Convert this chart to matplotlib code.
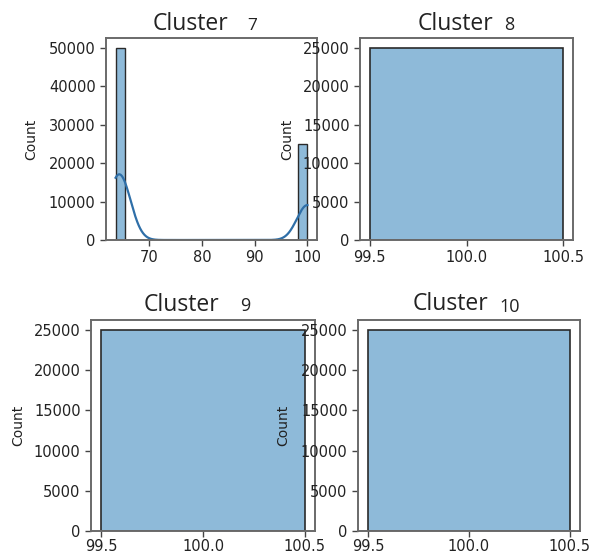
import numpy as np
import matplotlib
matplotlib.use("Agg")
import matplotlib.pyplot as plt

# ---------------- data ----------------
c7_values = [63.6, 65.0, 100.0]
c7_counts = [25000, 25000, 25000]
c7_bins = 20
c7_kde_bw = 2.0

c8_values = [100.0]
c8_counts = [25000]
c9_values = [100.0]
c9_counts = [25000]
c10_values = [100.0]
c10_counts = [25000]

titles = ["Cluster", "Cluster", "Cluster", "Cluster"]
numbers = ["7", "8", "9", "10"]

c7_xticks = [70, 80, 90, 100]
c7_yticks = [0, 10000, 20000, 30000, 40000, 50000]
single_xticks = [99.5, 100.0, 100.5]
single_xticklabels = ["99.5", "100.0", "100.5"]
single_yticks = [0, 5000, 10000, 15000, 20000, 25000]

# ---------------- style ----------------
W, H = 592, 554
fig = plt.figure(figsize=(W / 100, H / 100), dpi=100)
BAR_FACE = (0.122, 0.467, 0.706, 0.5)
BAR_EDGE = "#2a2a2a"
LINE = "#2f6fa8"
SPINE = "#6a6a6a"
TXT = "#222222"


def px_axes(l, r, t, b):
    return fig.add_axes([l / W, (H - b) / H, (r - l) / W, (b - t) / H])


def style(ax, label_x, xpad=3.5):
    for s in ax.spines.values():
        s.set_color(SPINE)
        s.set_linewidth(1.4)
    ax.tick_params(colors=TXT, labelsize=10.5, length=4, width=1, color="#444444")
    ax.tick_params(axis="x", pad=xpad)
    ax.set_ylabel("Count", fontsize=10, color=TXT)
    ax.yaxis.set_label_coords(label_x, 0.5)


def single_hist(ax, values, counts):
    edges = np.array([values[0] - 0.5, values[0] + 0.5])
    cnt, edges = np.histogram(values, bins=edges, weights=counts)
    ax.bar(edges[:-1], cnt, width=np.diff(edges), align="edge",
           facecolor=BAR_FACE, edgecolor=BAR_EDGE, linewidth=1.2)
    span = edges[-1] - edges[0]
    ax.set_xlim(edges[0] - 0.05 * span, edges[-1] + 0.05 * span)
    ax.set_ylim(0, cnt.max() * 1.05)
    ax.set_xticks(single_xticks)
    ax.set_xticklabels(single_xticklabels)
    ax.set_yticks(single_yticks)


# Cluster 7
ax7 = px_axes(106, 317, 38, 240)
vals = np.array(c7_values)
w = np.array(c7_counts, dtype=float)
cnt, edges = np.histogram(vals, bins=c7_bins, weights=w)
ax7.bar(edges[:-1], cnt, width=np.diff(edges), align="edge",
        facecolor=BAR_FACE, edgecolor=BAR_EDGE, linewidth=1.0)
xs = np.linspace(vals.min(), vals.max(), 400)
dens = np.zeros_like(xs)
for v, wt in zip(vals, w):
    dens += wt * np.exp(-0.5 * ((xs - v) / c7_kde_bw) ** 2) / (c7_kde_bw * np.sqrt(2 * np.pi))
binw = edges[1] - edges[0]
ax7.plot(xs, dens * binw, color=LINE, lw=1.6)
span = vals.max() - vals.min()
ax7.set_xlim(vals.min() - 0.05 * span, vals.max() + 0.05 * span)
ax7.set_ylim(0, cnt.max() * 1.05)
ax7.set_xticks(c7_xticks)
ax7.set_yticks(c7_yticks)
style(ax7, -0.322)

# Cluster 8
ax8 = px_axes(360, 573, 38, 240)
single_hist(ax8, c8_values, c8_counts)
style(ax8, -0.31)

# Cluster 9
ax9 = px_axes(91, 315, 320, 531)
single_hist(ax9, c9_values, c9_counts)
style(ax9, -0.295, xpad=1.5)

# Cluster 10
ax10 = px_axes(358, 580, 320, 531)
single_hist(ax10, c10_values, c10_counts)
style(ax10, -0.306, xpad=1.5)

# titles (pixel positions: word centre x, baseline y)
title_pos = [(190, 29.5), (455.5, 29.5), (181.5, 311), (450.5, 310)]
num_pos = [(252, 30), (509, 30), (245, 311), (510, 312)]
num_size = [12.5, 13, 13, 13]
for t, n, (tx, ty), (nx, ny), ns in zip(titles, numbers, title_pos, num_pos, num_size):
    fig.text(tx / W, 1 - ty / H, t, fontsize=16.5, family=["Open Sans", "DejaVu Sans"],
             ha="center", va="baseline", color=TXT)
    fig.text(nx / W, 1 - ny / H, n, fontsize=ns, family=["Open Sans", "DejaVu Sans"],
             ha="center", va="baseline", color=TXT)

fig.savefig("out.png", dpi=100)
